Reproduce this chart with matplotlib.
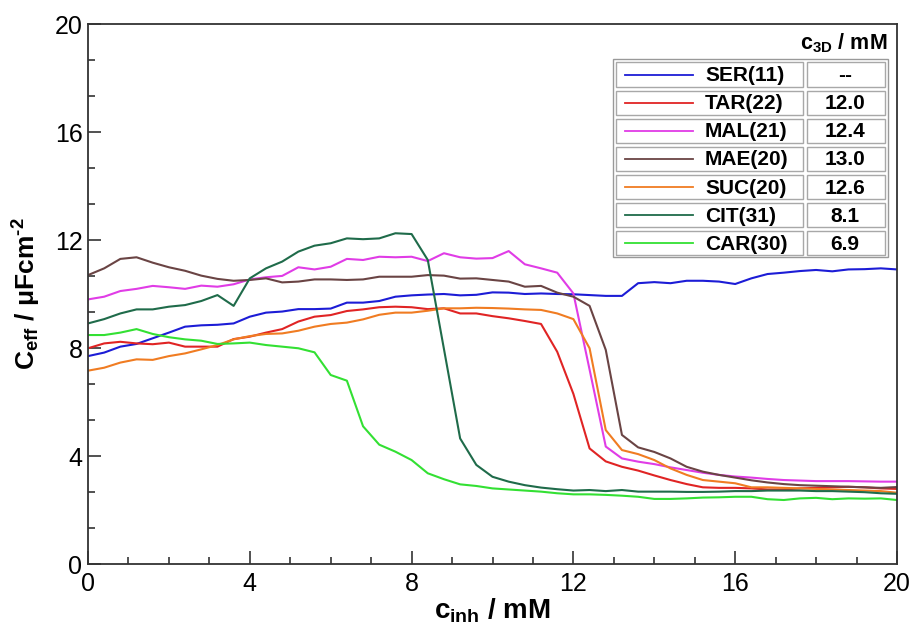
import numpy as np
import matplotlib
matplotlib.use('Agg')
import matplotlib.pyplot as plt
from matplotlib.patches import Rectangle
from matplotlib.lines import Line2D

plt.rcParams['font.family'] = ['Liberation Sans', 'DejaVu Sans']
plt.rcParams['mathtext.fontset'] = 'custom'
plt.rcParams['mathtext.rm'] = 'Liberation Sans:bold'
plt.rcParams['mathtext.bf'] = 'Liberation Sans:bold'
plt.rcParams['mathtext.it'] = 'Liberation Sans:bold'

# inhibitor concentration / mM (same grid for every series)
c_inh = np.round(np.arange(0, 20.01, 0.4), 1)

ser = [7.70, 7.83, 8.05, 8.15, 8.36, 8.57, 8.79, 8.84, 8.86, 8.91,
       9.16, 9.31, 9.35, 9.44, 9.44, 9.46, 9.68, 9.68, 9.74, 9.90,
       9.95, 9.98, 10.00, 9.95, 9.97, 10.06, 10.05, 10.00, 10.02, 10.00,
       9.99, 9.96, 9.93, 9.93, 10.40, 10.44, 10.40, 10.49, 10.49, 10.46,
       10.37, 10.58, 10.74, 10.79, 10.85, 10.89, 10.84, 10.91, 10.92, 10.95, 10.91]
tar = [7.99, 8.17, 8.23, 8.17, 8.14, 8.20, 8.05, 8.05, 8.05, 8.33,
       8.42, 8.57, 8.70, 8.98, 9.16, 9.22, 9.37, 9.43, 9.51, 9.53,
       9.51, 9.44, 9.47, 9.28, 9.28, 9.18, 9.10, 9.00, 8.89, 7.86,
       6.30, 4.28, 3.80, 3.60, 3.46, 3.28, 3.11, 2.96, 2.84, 2.82,
       2.82, 2.80, 2.76, 2.76, 2.80, 2.82, 2.84, 2.86, 2.84, 2.80, 2.78]
mal = [9.80, 9.90, 10.11, 10.19, 10.30, 10.25, 10.19, 10.31, 10.27, 10.36,
       10.54, 10.62, 10.67, 10.99, 10.91, 11.01, 11.30, 11.26, 11.38, 11.36,
       11.38, 11.22, 11.51, 11.36, 11.31, 11.33, 11.59, 11.10, 10.95, 10.79,
       10.02, 7.20, 4.35, 3.91, 3.79, 3.70, 3.58, 3.48, 3.38, 3.30,
       3.24, 3.20, 3.15, 3.11, 3.09, 3.07, 3.07, 3.07, 3.06, 3.05, 3.05]
mae = [10.70, 10.95, 11.30, 11.36, 11.16, 10.99, 10.86, 10.68, 10.56, 10.49,
       10.52, 10.58, 10.43, 10.46, 10.54, 10.54, 10.52, 10.54, 10.64, 10.64,
       10.64, 10.70, 10.68, 10.57, 10.58, 10.52, 10.46, 10.27, 10.30, 10.05,
       9.90, 9.56, 7.93, 4.78, 4.32, 4.15, 3.91, 3.60, 3.42, 3.30,
       3.20, 3.10, 3.02, 2.96, 2.92, 2.90, 2.88, 2.86, 2.84, 2.82, 2.85]
suc = [7.16, 7.27, 7.46, 7.58, 7.56, 7.70, 7.80, 7.95, 8.11, 8.32,
       8.44, 8.52, 8.54, 8.64, 8.79, 8.89, 8.94, 9.06, 9.23, 9.31,
       9.31, 9.38, 9.47, 9.47, 9.49, 9.48, 9.46, 9.43, 9.41, 9.28,
       9.07, 7.99, 4.96, 4.22, 4.07, 3.85, 3.54, 3.30, 3.11, 3.05,
       2.99, 2.84, 2.84, 2.82, 2.80, 2.78, 2.76, 2.74, 2.72, 2.70, 2.64]
cit = [8.91, 9.07, 9.28, 9.43, 9.43, 9.53, 9.59, 9.74, 9.96, 9.56,
       10.58, 10.95, 11.20, 11.57, 11.79, 11.88, 12.06, 12.03, 12.06, 12.25,
       12.22, 11.26, 7.96, 4.65, 3.67, 3.23, 3.05, 2.92, 2.83, 2.77,
       2.72, 2.74, 2.70, 2.74, 2.68, 2.68, 2.68, 2.67, 2.67, 2.68,
       2.70, 2.70, 2.72, 2.72, 2.72, 2.70, 2.70, 2.68, 2.66, 2.62, 2.60]
car = [8.48, 8.48, 8.57, 8.70, 8.52, 8.40, 8.32, 8.27, 8.15, 8.17,
       8.20, 8.11, 8.05, 7.99, 7.84, 7.00, 6.79, 5.10, 4.42, 4.16,
       3.85, 3.36, 3.14, 2.95, 2.89, 2.80, 2.76, 2.72, 2.68, 2.62,
       2.58, 2.58, 2.56, 2.53, 2.49, 2.41, 2.41, 2.43, 2.46, 2.47,
       2.49, 2.49, 2.40, 2.37, 2.43, 2.45, 2.40, 2.43, 2.42, 2.43, 2.37]

labels = ['SER(11)', 'TAR(22)', 'MAL(21)', 'MAE(20)', 'SUC(20)', 'CIT(31)', 'CAR(30)']
c3d = ['--', '12.0', '12.4', '13.0', '12.6', '8.1', '6.9']
colors = ['#1c1cd6', '#e02424', '#e03ce6', '#6a4444', '#f07c22', '#1f6b4a', '#33e033']
series = [ser, tar, mal, mae, suc, cit, car]

W, H = 914, 641
fig = plt.figure(figsize=(W / 100, H / 100), dpi=100)
ax = fig.add_axes([88 / W, (H - 564) / H, (897 - 88) / W, (564 - 24) / H])

for y, c in zip(series, colors):
    ax.plot(c_inh, y, color=c, lw=1.5)

ax.set_xlim(0, 20)
ax.set_ylim(0, 20)
ax.set_xticks(np.arange(0, 21, 4))
ax.set_yticks(np.arange(0, 21, 4))
ax.set_xticks(np.arange(0, 21, 1), minor=True)
ax.set_yticks(np.arange(0, 20.01, 4 / 3), minor=True)
ax.tick_params(which='both', direction='in', top=False, right=False,
               labelsize=18, color='#333333', width=1.2)
ax.tick_params(which='major', length=9.5)
ax.tick_params(which='minor', length=5)
ax.tick_params(axis='x', pad=6)
ax.tick_params(axis='y', pad=4)
for sp in ax.spines.values():
    sp.set_linewidth(1.3)
    sp.set_color('#333333')

ax.set_xlabel(r'$c_{inh}$ / mM', fontsize=20, fontweight='bold', labelpad=0)
ax.set_ylabel(r'$C_{eff}$ / μFcm$^{\text{-2}}$', fontsize=19, fontweight='bold', labelpad=8)


# table-like legend, positions given in figure pixels of the reference
def ax_xy(px, py):
    return (px - 88) / 809, (564 - py) / 540


def box(x0, y0, x1, y1, ec='#a8a8a8'):
    (ax0, ay1), (ax1, ay0) = ax_xy(x0, y0), ax_xy(x1, y1)
    ax.add_patch(Rectangle((ax0, ay0), ax1 - ax0, ay1 - ay0, transform=ax.transAxes,
                           fill=True, fc='white', ec=ec, lw=1.0, zorder=5))


box(612.5, 59, 888, 257, ec='#999999')
hx, hy = ax_xy(887, 43)
ax.text(hx, hy, r'c$_{3D}$ / mM', transform=ax.transAxes, ha='right', va='center',
        fontsize=15.5, fontweight='bold', zorder=6)
for i, (lab, val, c) in enumerate(zip(labels, c3d, colors)):
    top = 62.5 + 28.07 * i
    bot = top + 24.5
    mid = (top + bot) / 2
    box(616, top, 803, bot)
    box(807, top, 885, bot)
    lx0, ly = ax_xy(625, mid)
    lx1, _ = ax_xy(693, mid)
    ax.add_line(Line2D([lx0, lx1], [ly, ly], color=c, lw=1.3,
                       transform=ax.transAxes, zorder=6))
    tx, ty = ax_xy(705, mid + 1)
    ax.text(tx, ty, lab, transform=ax.transAxes, ha='left', va='center',
            fontsize=15, fontweight='bold', zorder=6)
    vx, _ = ax_xy(845, mid)
    ax.text(vx, ty, val, transform=ax.transAxes, ha='center', va='center',
            fontsize=15, fontweight='bold', zorder=6)

fig.savefig('out.png', dpi=100)
